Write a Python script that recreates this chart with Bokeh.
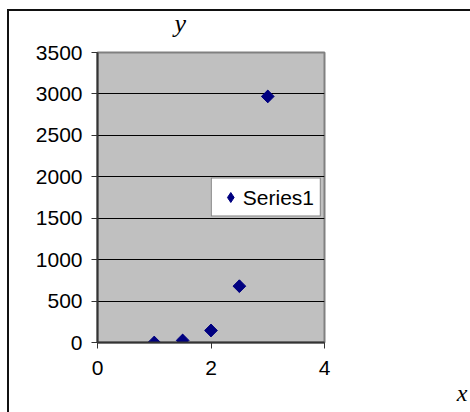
import math
from bokeh.plotting import figure
from bokeh.models import (ColumnDataSource, FixedTicker, Legend, LegendItem,
                          Range1d, LinearAxis, Title, InlineStyleSheet)
from bokeh.embed import file_html
from bokeh.resources import INLINE

# data
x_values = [1, 1.5, 2, 2.5, 3]
y_values = [0, 25, 145, 680, 2970]
series_name = "Series1"
x_ticks = [0, 2, 4]
y_ticks = [0, 500, 1000, 1500, 2000, 2500, 3000, 3500]
x_title = "x"
y_title = "y"

src = ColumnDataSource(dict(x=x_values, y=y_values))

p = figure(width=470, height=412, output_backend="svg", toolbar_location=None,
           x_range=Range1d(0, 4), y_range=Range1d(0, 3500),
           min_border_left=97, min_border_right=146,
           min_border_top=52, min_border_bottom=70)

p.background_fill_color = "#c0c0c0"
p.border_fill_color = "white"
p.outline_line_color = "#808080"
p.outline_line_width = 2

p.xgrid.grid_line_color = None
p.ygrid.grid_line_color = "black"
p.ygrid.grid_line_width = 1
p.ygrid.ticker = FixedTicker(ticks=y_ticks)

for ax in (p.xaxis[0], p.yaxis[0]):
    ax.axis_line_color = "#333333"
    ax.axis_line_width = 2
    ax.major_tick_line_color = "#333333"
    ax.major_tick_line_width = 1
    ax.major_tick_out = 6
    ax.major_tick_in = 0
    ax.minor_tick_line_color = None
    ax.major_label_text_font = "Liberation Sans"
    ax.major_label_text_font_size = "21px"
    ax.major_label_text_color = "black"

p.xaxis[0].ticker = FixedTicker(ticks=x_ticks)
p.yaxis[0].ticker = FixedTicker(ticks=y_ticks)
p.xaxis[0].major_label_standoff = 12
p.yaxis[0].major_label_standoff = 9

# diamond used for the legend key (hidden under the plotted markers)
key = p.scatter("x", "y", source=src, marker="diamond", size=12,
                fill_color="#000080", line_color="#000080")
p.scatter("x", "y", source=src, marker="square", size=9, angle=math.pi / 4,
          fill_color="#000080", line_color="#000080")

legend = Legend(items=[LegendItem(label=series_name, renderers=[key])],
                location="right", orientation="vertical",
                border_line_color="black", border_line_width=1,
                background_fill_color="white", background_fill_alpha=1,
                padding=6, margin=3, label_standoff=0,
                glyph_width=25, glyph_height=25, label_height=25,
                label_text_font="Liberation Sans", label_text_font_size="21px",
                label_text_color="black")
p.add_layout(legend, "center")

# "y" above the plot area
y_name = LinearAxis(ticker=FixedTicker(ticks=[1.46]), bounds=(1.2, 1.7),
                    major_label_overrides={1.46: y_title},
                    axis_line_color=None, major_tick_line_color=None,
                    minor_tick_line_color=None, major_tick_in=0,
                    major_tick_out=0, major_label_standoff=15,
                    major_label_text_font="Liberation Serif",
                    major_label_text_font_style="italic",
                    major_label_text_font_size="26px",
                    major_label_text_color="black")
p.add_layout(y_name, "above")

# "x" at the lower right
p.add_layout(Title(text=x_title, align="right", offset=-143, standoff=0,
                   text_font="Liberation Serif", text_font_style="italic",
                   text_font_size="24px", text_color="black"), "below")

p.stylesheets = [InlineStyleSheet(css=(
    ":host::after { content: ''; position: absolute; left: 7px; top: 9px;"
    " right: 0; bottom: 0; border-left: 2px solid #111;"
    " border-top: 2px solid #111; pointer-events: none; }"))]

open("out.html", "w").write(file_html(p, INLINE))
